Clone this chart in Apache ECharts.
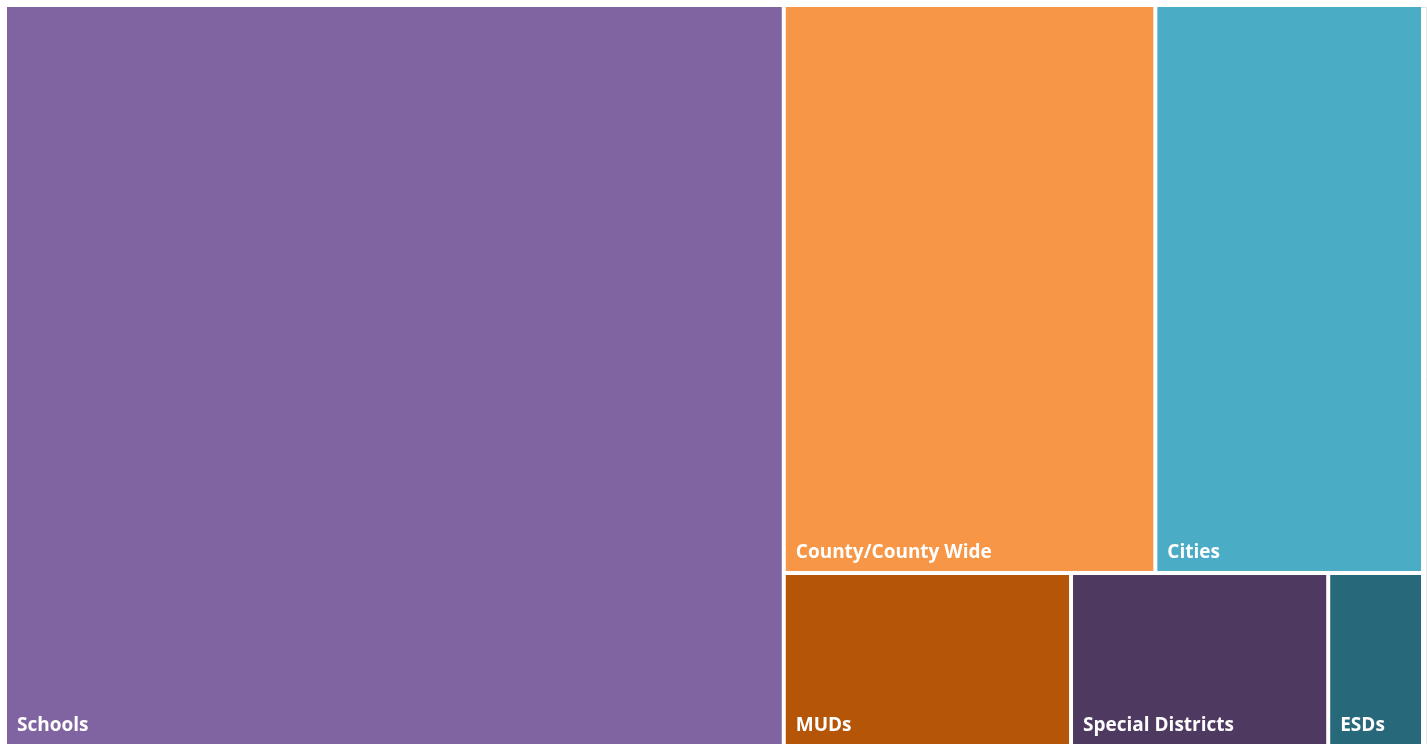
<!DOCTYPE html>
<html>
<head>
<meta charset="utf-8">
<script src="https://cdn.jsdelivr.net/npm/echarts@6/dist/echarts.min.js"></script>
<style>
html,body{margin:0;padding:0;background:#fff;}
#chart{width:1427px;height:744px;}
</style>
</head>
<body>
<div id="chart"></div>
<script>
// Categories and values (relative sizes)
const categories = ['Schools', 'County/County Wide', 'Cities', 'MUDs', 'Special Districts', 'ESDs'];
const values = [577, 211, 152, 49.7, 44.5, 16.4];
const colors = ['#8064A2', '#F79646', '#4BACC6', '#B45508', '#4E3A60', '#27697A'];
// grouping as laid out in the picture
const topGroup = [1, 2];
const bottomGroup = [3, 4, 5];

function leaf(i) {
  return { name: categories[i], value: values[i], itemStyle: { color: colors[i] } };
}
function sum(idx) { return idx.reduce((s, i) => s + values[i], 0); }

const data = [
  leaf(0),
  {
    name: '',
    value: sum(topGroup) + sum(bottomGroup),
    children: [
      { name: '', value: sum(topGroup), children: topGroup.map(leaf) },
      { name: '', value: sum(bottomGroup), children: bottomGroup.map(leaf) }
    ]
  }
];

const chart = echarts.init(document.getElementById('chart'), null, { renderer: 'canvas' });
const lvl = { itemStyle: { borderWidth: 0, gapWidth: 4, borderColor: '#fff' } };
chart.setOption({
  backgroundColor: '#fff',
  animation: false,
  graphic: [{
    type: 'rect', left: 5, top: 5, z: -1,
    shape: { width: 1419, height: 745 },
    style: { fill: 'none', stroke: '#e3e3e3', lineWidth: 1 }
  }],
  series: [{
    type: 'treemap',
    left: 7, top: 7, right: 6, bottom: 0,
    roam: false,
    nodeClick: false,
    breadcrumb: { show: false },
    sort: 'desc',
    squareRatio: 1,
    levels: [lvl, lvl, lvl, lvl],
    label: {
      show: true,
      position: 'insideBottomLeft',
      distance: 8,
      offset: [-3, 4],
      color: '#fff',
      fontFamily: '"Open Sans", "Noto Sans", sans-serif',
      fontWeight: 'bold',
      fontSize: 19
    },
    upperLabel: { show: false },
    itemStyle: { borderWidth: 0, gapWidth: 4, borderColor: '#fff' },
    data: data
  }]
});
</script>
</body>
</html>
